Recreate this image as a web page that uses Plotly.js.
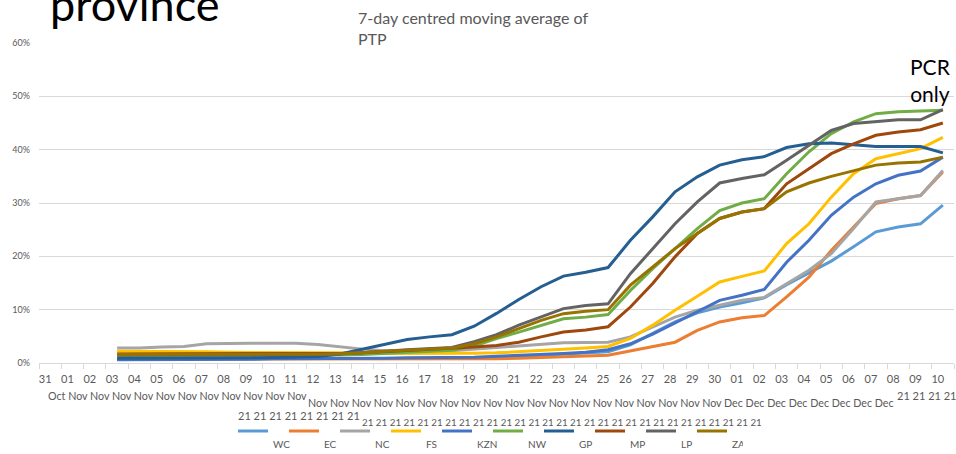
<!DOCTYPE html>
<html>
<head>
<meta charset="utf-8">
<script src="https://cdn.plot.ly/plotly-3.0.1.min.js"></script>
<style>
html,body{margin:0;padding:0;background:#fff;}
#chart{width:956px;height:454px;}
</style>
</head>
<body>
<div id="chart"></div>
<script>
// Categories (31 Oct 2021 – 10 Dec 2021)
const dates = ['31 Oct 21','01 Nov 21','02 Nov 21','03 Nov 21','04 Nov 21','05 Nov 21','06 Nov 21','07 Nov 21','08 Nov 21','09 Nov 21','10 Nov 21','11 Nov 21','12 Nov 21','13 Nov 21','14 Nov 21','15 Nov 21','16 Nov 21','17 Nov 21','18 Nov 21','19 Nov 21','20 Nov 21','21 Nov 21','22 Nov 21','23 Nov 21','24 Nov 21','25 Nov 21','26 Nov 21','27 Nov 21','28 Nov 21','29 Nov 21','30 Nov 21','01 Dec 21','02 Dec 21','03 Dec 21','04 Dec 21','05 Dec 21','06 Dec 21','07 Dec 21','08 Dec 21','09 Dec 21','10 Dec 21'];
// Tick label pieces as drawn in the reference
const dayLabels = ['31','01','02','03','04','05','06','07','08','09','10','11','12','13','14','15','16','17','18','19','20','21','22','23','24','25','26','27','28','29','30','01','02','03','04','05','06','07','08','09','10'];
const monthLabels = ['Oct','Nov','Nov','Nov','Nov','Nov','Nov','Nov','Nov','Nov','Nov','Nov','Nov','Nov','Nov','Nov','Nov','Nov','Nov','Nov','Nov','Nov','Nov','Nov','Nov','Nov','Nov','Nov','Nov','Nov','Nov','Dec','Dec','Dec','Dec','Dec','Dec','Dec','Dec','Dec','Dec'];
const yearLabels = ['21','21','21','21','21','21','21','21','21','21','21','21','21','21','21','21','21','21','21','21','21','21','21','21','21','21','21','21','21','21','21','21','21','21','21','21','21','21','21','21','21'];

// 7-day centred moving average of PTP, %
const WC  = [null,null,null,0.8,0.8,0.8,0.8,0.8,0.8,0.8,0.8,0.8,0.8,0.8,0.8,0.8,0.8,0.9,0.9,0.9,1.0,1.2,1.4,1.6,1.8,2.1,3.4,5.5,7.7,9.4,10.5,11.3,12.2,14.7,16.9,19.1,21.8,24.6,25.5,26.1,29.6];
const EC  = [null,null,null,0.7,0.7,0.7,0.7,0.7,0.7,0.7,0.7,0.7,0.7,0.7,0.7,0.7,0.7,0.7,0.7,0.7,0.8,0.9,1.0,1.1,1.3,1.45,2.25,3.0,3.9,6.1,7.7,8.5,8.9,12.4,16.1,21.1,25.5,29.9,30.8,31.4,35.8];
const NC  = [null,null,null,2.8,2.8,3.0,3.1,3.6,3.7,3.7,3.7,3.7,3.45,3.0,2.6,2.3,2.2,2.2,2.3,2.6,3.0,3.3,3.6,3.8,3.85,3.9,4.9,6.75,8.6,9.9,10.8,11.75,12.3,14.9,17.4,20.5,25.2,30.2,30.8,31.4,36.1];
const FS  = [null,null,null,2.2,2.2,2.2,2.1,2.1,2.0,2.0,2.0,2.0,1.9,1.9,1.8,1.8,1.75,1.75,1.8,1.85,1.9,2.1,2.4,2.6,2.8,3.1,4.6,7.1,9.9,12.5,15.2,16.25,17.25,22.4,26.1,31.1,35.5,38.3,39.3,40.2,42.3];
const KZN = [null,null,null,0.6,0.6,0.6,0.7,0.7,0.7,0.7,0.8,0.8,0.8,0.8,0.9,0.9,1.0,1.0,1.0,1.1,1.25,1.4,1.6,1.8,2.0,2.5,3.6,5.4,7.5,9.6,11.75,12.7,13.8,18.9,23.0,27.7,31.1,33.6,35.2,36.0,38.6];
const NW  = [null,null,null,1.4,1.4,1.4,1.4,1.4,1.4,1.4,1.4,1.4,1.4,1.5,1.6,1.8,2.0,2.2,2.4,3.2,4.6,5.8,7.1,8.3,8.6,9.1,13.6,17.7,21.45,25.2,28.6,30.0,30.8,35.5,39.6,43.0,45.2,46.75,47.1,47.25,47.4];
const GP  = [null,null,null,0.9,0.9,0.9,0.95,1.0,1.0,1.0,1.05,1.1,1.2,1.7,2.6,3.5,4.4,4.9,5.3,6.9,9.3,11.9,14.3,16.3,17.0,17.9,23.0,27.4,32.1,34.9,37.1,38.1,38.7,40.4,41.1,41.25,40.95,40.6,40.6,40.6,39.4];
const MP  = [null,null,null,1.7,1.7,1.7,1.7,1.7,1.7,1.7,1.7,1.7,1.7,1.8,1.9,2.1,2.3,2.5,2.7,3.0,3.3,3.9,4.9,5.8,6.2,6.8,10.5,14.9,19.9,24.3,27.1,28.3,28.95,33.6,36.4,39.25,41.1,42.7,43.3,43.75,45.0];
const LP  = [null,null,null,1.5,1.5,1.5,1.5,1.5,1.5,1.5,1.5,1.5,1.6,1.7,1.9,2.2,2.5,2.7,2.9,4.0,5.3,7.1,8.6,10.2,10.8,11.1,16.75,21.4,26.1,30.2,33.75,34.6,35.3,38.0,40.8,43.6,44.9,45.2,45.6,45.6,47.5];
const ZA  = [null,null,null,1.6,1.6,1.6,1.6,1.6,1.6,1.6,1.6,1.6,1.65,1.75,1.9,2.2,2.4,2.6,2.8,3.6,4.9,6.45,8.0,9.25,9.7,10.0,14.6,18.0,21.45,24.3,27.1,28.3,28.95,32.1,33.75,35.0,36.1,37.1,37.5,37.7,38.6];

const seriesNames = ['WC','EC','NC','FS','KZN','NW','GP','MP','LP','ZA'];
const seriesValues = [WC,EC,NC,FS,KZN,NW,GP,MP,LP,ZA];
const seriesColors = ['#5B9BD5','#ED7D31','#A5A5A5','#FFC000','#4472C4','#70AD47','#255E91','#9E480E','#636363','#997300'];

const FONT = 'Lato, "Open Sans", sans-serif';
const GREY = '#595959';

const traces = seriesNames.map((n, k) => ({
  type: 'scatter',
  mode: 'lines',
  name: ' <br>' + n,
  x: dates,
  y: seriesValues[k],
  line: {color: seriesColors[k], width: 3},
  connectgaps: false,
  hoverinfo: 'skip'
}));

// plot-area geometry helpers for text placement (pixels -> paper)
const L = 39, R = 2, T = 43, B = 91, W = 956, H = 454;
const pw = W - L - R, ph = H - T - B;
const px = v => (v - L) / pw;
const py = v => (H - B - v) / ph;

function rowNote(text, xLeft, yMid, size) {
  return {xref: 'paper', yref: 'paper', x: px(xLeft), y: py(yMid), xanchor: 'left', yanchor: 'middle',
          text: text, showarrow: false, font: {family: FONT, size: size, color: GREY}, borderpad: 0};
}

const annotations = [
  {xref: 'paper', yref: 'paper', x: px(356), y: py(28), xanchor: 'left', yanchor: 'middle', align: 'left',
   text: '7-day centred moving average of<br>PTP', showarrow: false,
   font: {family: FONT, size: 16, color: GREY}},
  {xref: 'paper', yref: 'paper', x: px(930), y: py(80), xanchor: 'center', yanchor: 'middle', align: 'center',
   text: 'PCR<br>only', showarrow: false, font: {family: FONT, size: 21, color: '#000'}},
  rowNote(monthLabels.slice(0, 12).join(' '), 47, 395, 10.7),
  rowNote(monthLabels.slice(12, 39).join(' '), 307, 402, 10.7),
  rowNote(yearLabels.slice(37, 41).join(' '), 896, 395, 11),
  rowNote(yearLabels.slice(0, 8).join(' '), 237, 415, 11),
  rowNote(yearLabels.slice(8, 37).join(' '), 361, 422, 9.8)
];

const layout = {
  width: W, height: H,
  margin: {l: L, r: R, t: T, b: B, pad: 0},
  paper_bgcolor: '#fff', plot_bgcolor: '#fff',
  font: {family: FONT, color: GREY},
  title: {text: 'province', x: 50 / W, xanchor: 'left', xref: 'container', yref: 'container',
          y: 1 - 21 / H, yanchor: 'bottom', pad: {t: 0, b: 0, l: 0, r: 0},
          font: {family: FONT, size: 45, color: '#000'}},
  xaxis: {
    type: 'category', categoryorder: 'array', categoryarray: dates,
    range: [-0.5, 40.5], fixedrange: true,
    tickmode: 'array', tickvals: dates, ticktext: dayLabels,
    tickson: 'boundaries', ticks: 'outside', ticklen: 5, tickcolor: '#D9D9D9', tickwidth: 1,
    showline: true, linecolor: '#D9D9D9', linewidth: 1,
    showgrid: false, zeroline: false,
    tickangle: 0, ticklabelshift: -5, ticklabelstandoff: 6,
    tickfont: {family: FONT, size: 11, color: GREY}
  },
  yaxis: {
    range: [0, 60], dtick: 10, tick0: 0, ticksuffix: '%', fixedrange: true,
    showgrid: true, gridcolor: '#D9D9D9', gridwidth: 1,
    zeroline: false, showline: false, ticks: '', ticklabelstandoff: 8,
    tickfont: {family: FONT, size: 9, color: GREY}
  },
  showlegend: true,
  legend: {
    orientation: 'h', xref: 'container', yref: 'container',
    x: 233 / W, xanchor: 'left', y: 1 - 418 / H, yanchor: 'top',
    valign: 'top', entrywidthmode: 'pixels', entrywidth: 6,
    itemwidth: 30, tracegroupgap: 0,
    font: {family: FONT, size: 10, color: GREY},
    bgcolor: 'rgba(0,0,0,0)', borderwidth: 0
  },
  annotations: annotations
};

Plotly.newPlot('chart', traces, layout, {displayModeBar: false, staticPlot: true});
</script>
</body>
</html>
